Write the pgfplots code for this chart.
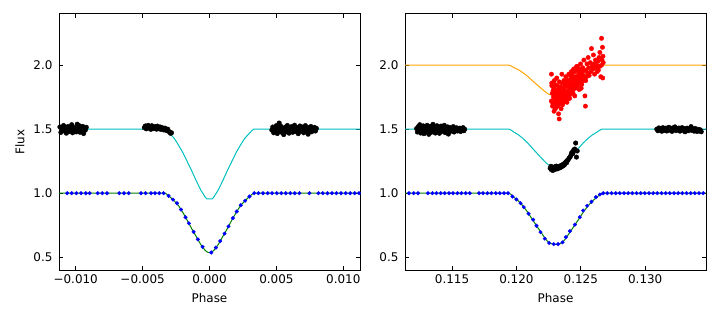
\documentclass[border=0pt]{standalone}
\usepackage{fontspec}
\setmainfont{DejaVu Sans}
\usepackage{pgfplots}
\pgfplotsset{compat=1.18}
\definecolor{mplcyan}{rgb}{0,0.75,0.75}
\definecolor{mplgreen}{rgb}{0,0.5,0}
\definecolor{mplorange}{rgb}{1,0.647,0}
\begin{document}
\begin{tikzpicture}
\pgfplotsset{
  lcpanel/.style={
    scale only axis, width=301bp, height=256bp,
    ymin=0.4, ymax=2.4,
    ytick={0.5,1.0,1.5,2.0},
    yticklabels={0.5,1.0,1.5,2.0},
    scaled x ticks=false, scaled y ticks=false,
    tick align=inside, major tick length=4bp,
    major tick style={black, line width=0.8bp},
    axis line style={line width=1bp},
    font=\fontsize{12}{14}\selectfont,
    xticklabel style={yshift=-1bp},
    yticklabel style={xshift=-3bp},
    xlabel={Phase},
    xlabel style={anchor=center, at={(axis description cs:0.5,-0.109)}},
    clip=true,
  },
  blkpts/.style={only marks, mark=*, mark size=2.3bp, black},
  redpts/.style={only marks, mark=*, mark size=2.2bp, color=red, mark options={fill=red}},
  blupts/.style={only marks, mark=*, mark size=1.8bp, color=blue, mark options={fill=blue}},
}
\path[use as bounding box] (0bp,0bp) rectangle (720bp,320bp);

% left panel: primary eclipse
\begin{axis}[lcpanel, at={(59bp,50bp)}, anchor=south west,
  xmin=-0.01125, xmax=0.01125,
  xtick={-0.01,-0.005,0,0.005,0.01},
  xticklabels={−0.010,−0.005,0.000,0.005,0.010},
  ylabel={Flux},
  ylabel style={anchor=center, at={(axis description cs:-0.1296,0.5)}}]

\addplot[blkpts] coordinates {
(-0.01118,1.517) (-0.01111,1.475) (-0.01104,1.506) (-0.01098,1.492) (-0.01091,1.529)
(-0.01084,1.485) (-0.01077,1.513) (-0.01070,1.469) (-0.01064,1.503) (-0.01057,1.521)
(-0.01050,1.482) (-0.01043,1.510) (-0.01036,1.496) (-0.01030,1.535) (-0.01023,1.472)
(-0.01016,1.514) (-0.01009,1.489) (-0.01002,1.507) (-0.00996,1.479) (-0.00989,1.539)
(-0.00982,1.499) (-0.00975,1.528) (-0.00968,1.476) (-0.00962,1.508) (-0.00955,1.487)
(-0.00948,1.522) (-0.00941,1.466) (-0.00934,1.504) (-0.00928,1.493) (-0.00921,1.515)
(-0.00487,1.512) (-0.00480,1.525) (-0.00473,1.503) (-0.00466,1.518) (-0.00459,1.530)
(-0.00452,1.508) (-0.00445,1.522) (-0.00438,1.499) (-0.00431,1.527) (-0.00424,1.513)
(-0.00417,1.505) (-0.00410,1.520) (-0.00403,1.516) (-0.00396,1.500) (-0.00389,1.524)
(-0.00382,1.510) (-0.00375,1.503) (-0.00368,1.517) (-0.00361,1.498) (-0.00354,1.512)
(-0.00347,1.505) (-0.00340,1.494) (-0.00333,1.508) (-0.00326,1.497) (-0.00319,1.489)
(-0.00312,1.500) (-0.00305,1.484) (-0.00298,1.476) (-0.00291,1.468) (-0.00284,1.472)
(0.00466,1.493) (0.00473,1.517) (0.00480,1.472) (0.00487,1.504) (0.00494,1.483)
(0.00500,1.528) (0.00507,1.466) (0.00514,1.510) (0.00521,1.548) (0.00527,1.490)
(0.00534,1.522) (0.00541,1.475) (0.00548,1.507) (0.00555,1.458) (0.00561,1.497)
(0.00568,1.517) (0.00575,1.480) (0.00582,1.529) (0.00588,1.492) (0.00595,1.469)
(0.00602,1.511) (0.00609,1.486) (0.00616,1.521) (0.00622,1.476) (0.00629,1.503)
(0.00636,1.531) (0.00643,1.482) (0.00649,1.514) (0.00656,1.493) (0.00663,1.465)
(0.00670,1.507) (0.00676,1.525) (0.00683,1.485) (0.00690,1.500) (0.00697,1.517)
(0.00704,1.472) (0.00710,1.496) (0.00717,1.528) (0.00724,1.487) (0.00731,1.507)
(0.00737,1.461) (0.00744,1.513) (0.00751,1.490) (0.00758,1.521) (0.00764,1.480)
(0.00771,1.503) (0.00778,1.493) (0.00785,1.514) (0.00792,1.486) (0.00799,1.506)
};

\addplot[mplcyan, line width=1bp] coordinates {
(-0.0115,1.5) (-0.0033,1.5) (-0.00314,1.486) (-0.00297,1.467) (-0.00264,1.429)
(-0.00231,1.375) (-0.00198,1.315) (-0.00165,1.244) (-0.00132,1.173) (-0.00099,1.097)
(-0.00066,1.026) (-0.00033,0.971) (-0.0002,0.955) (0.0002,0.955) (0.00033,0.971)
(0.00066,1.026) (0.00099,1.097) (0.00132,1.173) (0.00165,1.244) (0.00198,1.315)
(0.00231,1.375) (0.00264,1.429) (0.00297,1.467) (0.00314,1.486) (0.0033,1.5) (0.0115,1.5)
};

\addplot[blupts] coordinates {
(-0.01064,1) (-0.0103,1) (-0.00995,1) (-0.0096,1) (-0.00925,1) (-0.00896,1)
(-0.00836,1) (-0.00801,1) (-0.00766,1) (-0.00674,1) (-0.00639,1) (-0.00604,1)
(-0.00512,1) (-0.00478,1) (-0.00437,1) (-0.00407,1) (-0.00375,1) (-0.00343,1)
(-0.00306,0.979) (-0.00273,0.950) (-0.00243,0.922) (-0.00213,0.872) (-0.00179,0.812)
(-0.00154,0.765) (-0.00119,0.698) (-0.00087,0.639) (-0.00052,0.581) (0.00013,0.537)
(0.00048,0.575) (0.0008,0.626) (0.00112,0.684) (0.00142,0.741) (0.00175,0.805)
(0.00204,0.857) (0.00234,0.906) (0.00266,0.941) (0.00299,0.974) (0.00334,1)
(0.00366,1) (0.004,1) (0.00435,1) (0.00468,1) (0.00503,1) (0.00537,1) (0.0057,1)
(0.00604,1) (0.00637,1) (0.00672,1) (0.00747,1) (0.00814,1) (0.00847,1) (0.00882,1)
(0.00915,1) (0.00949,1) (0.00983,1) (0.01018,1) (0.01052,1) (0.01085,1) (0.01118,1)
};

\addplot[mplgreen, line width=1bp] coordinates {
(-0.0115,1) (-0.0033,1) (-0.00314,0.988) (-0.00297,0.972) (-0.00264,0.940)
(-0.00231,0.902) (-0.00198,0.847) (-0.00165,0.786) (-0.00132,0.721) (-0.00099,0.661)
(-0.00066,0.600) (-0.00033,0.554) (-0.000165,0.540) (0,0.535) (0.000165,0.540)
(0.00033,0.554) (0.00066,0.600) (0.00099,0.661) (0.00132,0.721) (0.00165,0.786)
(0.00198,0.847) (0.00231,0.902) (0.00264,0.940) (0.00297,0.972) (0.00314,0.988)
(0.0033,1) (0.0115,1)
};
\end{axis}

% right panel: secondary eclipse
\begin{axis}[lcpanel, at={(405bp,50bp)}, anchor=south west,
  xmin=0.11135, xmax=0.13472,
  xtick={0.115,0.12,0.125,0.13},
  xticklabels={0.115,0.120,0.125,0.130}]

\addplot[blkpts] coordinates {
(0.11225,1.505) (0.11231,1.478) (0.11238,1.520) (0.11244,1.492) (0.11250,1.535)
(0.11257,1.470) (0.11263,1.510) (0.11269,1.488) (0.11276,1.526) (0.11282,1.465)
(0.11288,1.500) (0.11295,1.515) (0.11301,1.480) (0.11307,1.530) (0.11314,1.492)
(0.11320,1.460) (0.11326,1.508) (0.11333,1.522) (0.11339,1.476) (0.11345,1.498)
(0.11352,1.538) (0.11358,1.485) (0.11364,1.512) (0.11371,1.470) (0.11377,1.503)
(0.11383,1.527) (0.11390,1.490) (0.11396,1.514) (0.11402,1.468) (0.11409,1.500)
(0.11415,1.524) (0.11421,1.482) (0.11428,1.508) (0.11434,1.495) (0.11440,1.530)
(0.11447,1.473) (0.11453,1.505) (0.11459,1.488) (0.11466,1.518) (0.11472,1.462)
(0.11478,1.498) (0.11485,1.512) (0.11491,1.484) (0.11497,1.506) (0.11504,1.491)
(0.11510,1.520) (0.11516,1.478) (0.11523,1.502) (0.11529,1.494) (0.11535,1.511)
(0.11542,1.486) (0.11548,1.500) (0.11554,1.490) (0.11561,1.508) (0.11567,1.482)
(0.11573,1.503) (0.11580,1.495) (0.11586,1.512) (0.11592,1.488) (0.11598,1.500)
(0.12262,1.195) (0.12268,1.210) (0.12272,1.183) (0.12278,1.200) (0.12283,1.178)
(0.12288,1.192) (0.12294,1.205) (0.12299,1.186) (0.12305,1.198) (0.12310,1.212)
(0.12316,1.190) (0.12321,1.202) (0.12327,1.195) (0.12332,1.208) (0.12338,1.199)
(0.12343,1.215) (0.12349,1.205) (0.12355,1.220) (0.12360,1.212) (0.12366,1.228)
(0.12372,1.220) (0.12378,1.236) (0.12384,1.245) (0.12390,1.238) (0.12396,1.256)
(0.12402,1.262) (0.12410,1.275) (0.12418,1.285) (0.12425,1.300) (0.12430,1.318)
(0.12438,1.310) (0.12445,1.338) (0.12452,1.345) (0.12460,1.392) (0.12466,1.282)
(0.12472,1.330)
(0.13090,1.500) (0.13098,1.488) (0.13106,1.510) (0.13114,1.495) (0.13121,1.505)
(0.13129,1.484) (0.13137,1.512) (0.13145,1.497) (0.13153,1.490) (0.13161,1.508)
(0.13168,1.486) (0.13176,1.503) (0.13184,1.515) (0.13192,1.492) (0.13200,1.500)
(0.13208,1.483) (0.13215,1.510) (0.13223,1.496) (0.13231,1.518) (0.13239,1.489)
(0.13247,1.502) (0.13255,1.494) (0.13262,1.509) (0.13270,1.485) (0.13278,1.500)
(0.13286,1.512) (0.13294,1.491) (0.13302,1.505) (0.13309,1.480) (0.13317,1.498)
(0.13325,1.508) (0.13333,1.488) (0.13341,1.503) (0.13349,1.495) (0.13356,1.520)
(0.13364,1.490) (0.13372,1.500) (0.13380,1.485) (0.13388,1.506) (0.13396,1.493)
(0.13403,1.482) (0.13411,1.499) (0.13419,1.488) (0.13427,1.495) (0.13435,1.480)
};

\addplot[mplcyan, line width=1bp] coordinates {
(0.111,1.5) (0.11943,1.5) (0.11961,1.491) (0.11979,1.478) (0.12015,1.4565)
(0.12051,1.4275) (0.12087,1.393) (0.12123,1.352) (0.12159,1.313) (0.12195,1.274)
(0.12231,1.236) (0.12249,1.222) (0.12267,1.214) (0.12303,1.21) (0.12339,1.214)
(0.12357,1.222) (0.12375,1.236) (0.12411,1.274) (0.12447,1.313) (0.12483,1.352)
(0.12519,1.393) (0.12555,1.4275) (0.12591,1.4565) (0.12627,1.478) (0.12645,1.491)
(0.12663,1.5) (0.135,1.5)
};

\addplot[redpts] coordinates {
(0.12272,1.93) (0.12275,1.84) (0.12278,1.78) (0.12271,1.72) (0.12280,1.68)
(0.12285,1.80) (0.12288,1.75) (0.12274,1.86) (0.12283,1.70) (0.12290,1.82)
(0.12292,1.64) (0.12295,1.77) (0.12298,1.85) (0.12301,1.72) (0.12304,1.69)
(0.12307,1.80) (0.12294,1.88) (0.12300,1.76) (0.12308,1.74) (0.12303,1.66)
(0.12312,1.79) (0.12315,1.71) (0.12318,1.84) (0.12321,1.68) (0.12324,1.76)
(0.12327,1.62) (0.12313,1.90) (0.12320,1.73) (0.12326,1.81) (0.12329,1.77)
(0.12332,1.58) (0.12335,1.74) (0.12338,1.70) (0.12341,1.83) (0.12344,1.78)
(0.12347,1.66) (0.12333,1.87) (0.12340,1.76) (0.12346,1.72) (0.12349,1.80)
(0.12352,1.75) (0.12355,1.86) (0.12358,1.69) (0.12361,1.79) (0.12364,1.73)
(0.12367,1.82) (0.12353,1.93) (0.12360,1.77) (0.12366,1.71) (0.12369,1.88)
(0.12372,1.80) (0.12375,1.74) (0.12378,1.85) (0.12381,1.77) (0.12384,1.91)
(0.12387,1.72) (0.12373,1.83) (0.12380,1.79) (0.12386,1.86)
(0.12392,1.78) (0.12395,1.84) (0.12398,1.88) (0.12401,1.75) (0.12404,1.81)
(0.12407,1.93) (0.12393,1.71) (0.12400,1.86) (0.12406,1.79)
(0.12412,1.83) (0.12415,1.77) (0.12418,1.89) (0.12421,1.85) (0.12424,1.80)
(0.12427,1.95) (0.12413,1.74) (0.12420,1.92) (0.12426,1.82)
(0.12432,1.86) (0.12435,1.80) (0.12438,1.90) (0.12441,1.84) (0.12444,1.97)
(0.12447,1.83) (0.12433,1.93) (0.12440,1.78) (0.12446,1.88)
(0.12452,1.87) (0.12455,1.95) (0.12458,1.82) (0.12461,1.91) (0.12464,1.86)
(0.12467,1.99) (0.12453,1.76) (0.12460,1.89) (0.12466,1.84)
(0.12472,1.90) (0.12475,1.84) (0.12478,1.96) (0.12481,1.88) (0.12484,1.93)
(0.12487,1.81) (0.12474,1.99) (0.12480,1.86)
(0.12492,1.92) (0.12495,1.87) (0.12498,2.01) (0.12501,1.90) (0.12504,1.95)
(0.12507,1.85) (0.12494,1.97) (0.12503,1.82)
(0.12512,1.93) (0.12516,1.98) (0.12520,1.88) (0.12524,2.04) (0.12528,1.91) (0.12514,1.95)
(0.12532,1.76) (0.12536,1.68) (0.12540,1.96) (0.12544,1.91) (0.12548,2.01) (0.12538,1.88)
(0.12553,1.94) (0.12557,2.06) (0.12561,1.98) (0.12565,1.92)
(0.12574,2.02) (0.12579,1.95) (0.12583,2.13) (0.12587,1.99)
(0.12594,1.97) (0.12598,2.08) (0.12603,2.01) (0.12607,1.93)
(0.12614,2.04) (0.12618,1.98) (0.12622,2.00) (0.12627,1.95)
(0.12632,2.03) (0.12636,1.96) (0.12641,2.06) (0.12645,1.99) (0.12648,2.10)
(0.12655,1.91) (0.12661,2.21) (0.12665,2.04) (0.12668,2.14) (0.12672,2.07)
(0.12670,1.90) (0.12674,2.02) (0.12660,2.00)
};

\addplot[mplorange, line width=1bp] coordinates {
(0.111,2.0) (0.11943,2.0) (0.11961,1.993) (0.11979,1.982) (0.12015,1.965)
(0.12051,1.941) (0.12087,1.913) (0.12123,1.880) (0.12159,1.848) (0.12195,1.817)
(0.12231,1.786) (0.12249,1.774) (0.12267,1.769) (0.12303,1.765) (0.12339,1.769)
(0.12357,1.774) (0.12375,1.786) (0.12411,1.817) (0.12447,1.848) (0.12483,1.880)
(0.12519,1.913) (0.12555,1.941) (0.12591,1.965) (0.12627,1.982) (0.12645,1.993)
(0.12663,2.0) (0.135,2.0)
};

\addplot[blupts] coordinates {
(0.11166,1) (0.11202,1) (0.11236,1) (0.11313,1) (0.11348,1) (0.11379,1) (0.11412,1)
(0.11443,1) (0.11477,1) (0.11508,1) (0.11542,1) (0.11573,1) (0.11606,1) (0.11638,1)
(0.1171,1) (0.11741,1) (0.11775,1) (0.11806,1) (0.1184,1) (0.11871,1) (0.11904,1)
(0.11935,1)
(0.11969,0.974) (0.12000,0.951) (0.12032,0.922) (0.12057,0.891) (0.12094,0.840)
(0.12130,0.793) (0.12156,0.746) (0.12187,0.696) (0.12220,0.645) (0.12254,0.611)
(0.1229,0.602) (0.12324,0.602) (0.12358,0.616) (0.12384,0.657) (0.12415,0.704)
(0.12454,0.754) (0.12492,0.813) (0.12518,0.865) (0.12549,0.902) (0.12583,0.933)
(0.12617,0.969) (0.12648,0.99)
(0.12674,1) (0.12706,1) (0.12739,1) (0.12771,1) (0.12803,1) (0.12836,1) (0.12868,1)
(0.129,1) (0.12933,1) (0.12965,1) (0.12997,1) (0.1303,1) (0.13062,1) (0.13094,1)
(0.13127,1) (0.13159,1) (0.13191,1) (0.13224,1) (0.13256,1) (0.13288,1) (0.13321,1)
(0.13353,1) (0.13385,1) (0.13418,1) (0.1345,1)
};

\addplot[mplgreen, line width=1bp] coordinates {
(0.111,1) (0.11943,1) (0.11961,0.988) (0.11979,0.970) (0.12015,0.94)
(0.12051,0.90) (0.12087,0.852) (0.12123,0.796) (0.12159,0.742) (0.12195,0.688)
(0.12231,0.636) (0.12249,0.616) (0.12267,0.606) (0.12303,0.6) (0.12339,0.606)
(0.12357,0.616) (0.12375,0.636) (0.12411,0.688) (0.12447,0.742) (0.12483,0.796)
(0.12519,0.852) (0.12555,0.90) (0.12591,0.94) (0.12627,0.970) (0.12645,0.988)
(0.12663,1) (0.135,1)
};
\end{axis}
\end{tikzpicture}
\end{document}
